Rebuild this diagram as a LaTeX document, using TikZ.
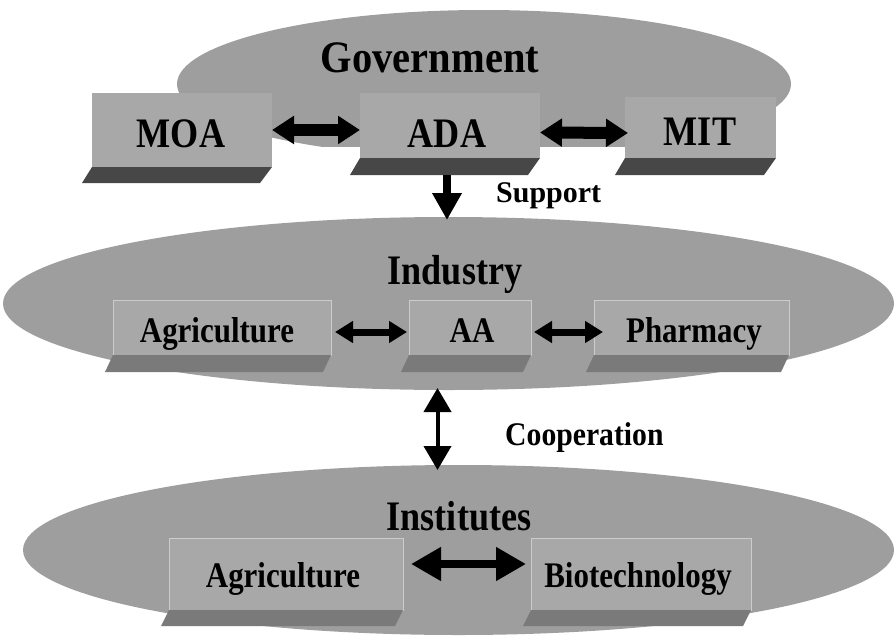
\documentclass[tikz,border=0pt]{standalone}
\usepackage{fontspec}
\setmainfont{Liberation Serif}
\newfontfamily\headfont[FakeStretch=0.9]{Liberation Serif}
\newfontfamily\condfont[FakeStretch=0.86]{Liberation Serif}
\usetikzlibrary{shapes.geometric,arrows.meta}

\tikzset{
  oval/.style={ellipse, fill=black!38, inner sep=0pt, outer sep=0pt},
  govbox/.style={rectangle, fill=black!34, inner sep=0pt, outer sep=0pt, anchor=north west},
  rowbox/.style={rectangle, fill=black!34, draw=black!20, line width=1pt, inner sep=0pt, outer sep=0pt, anchor=north west},
  slab/.style={fill=black!72},
  faintslab/.style={fill=black!52},
  txt/.style={inner sep=0pt, anchor=base, text=black},
  govtitle/.style={txt, font=\headfont\bfseries\fontsize{45}{45}\selectfont},
  tiertitle/.style={txt, font=\condfont\bfseries\fontsize{42}{42}\selectfont},
  boxlabel/.style={txt, font=\condfont\bfseries\fontsize{42}{42}\selectfont},
  rowlabel/.style={txt, font=\condfont\bfseries\fontsize{36}{36}\selectfont},
  linklabel/.style={txt, anchor=base west, font=\bfseries\fontsize{30}{30}\selectfont},
  coopfont/.style={txt, anchor=base west, font=\headfont\bfseries\fontsize{33}{33}\selectfont},
  fatlink/.style={line width=12pt, {Triangle[length=22pt,width=27pt]}-{Triangle[length=22pt,width=27pt]}},
  rowlink/.style={line width=7pt, {Triangle[length=18pt,width=21pt]}-{Triangle[length=18pt,width=21pt]}},
  widelink/.style={line width=8pt, {Triangle[length=30pt,width=32pt]}-{Triangle[length=30pt,width=32pt]}},
  downlink/.style={line width=8pt, -{Triangle[length=27pt,width=28pt]}},
  vlink/.style={line width=4pt, {Triangle[length=24pt,width=27pt]}-{Triangle[length=24pt,width=27pt]}},
}

\begin{document}
\begin{tikzpicture}[x=1pt,y=-1pt]
\useasboundingbox (0,0) rectangle (896,640);

% --- Government tier: a dome whose lower edge is hidden by the boxes
\begin{scope}
  \clip (0,0) rectangle (896,146);
  \node[oval, minimum width=614pt, minimum height=148pt] (gov) at (484,84) {};
\end{scope}

\node[govbox, minimum width=180pt, minimum height=74pt] (moa) at (92,93) {};
\node[govbox, minimum width=180pt, minimum height=65pt] (ada) at (360,93) {};
\node[govbox, minimum width=151pt, minimum height=61pt] (mit) at (625,97) {};

\foreach \b/\d in {moa/16,ada/17,mit/17}
  \fill[slab] (\b.south west) -- (\b.south east)
    -- ([shift={(-12,\d)}]\b.south east) -- ([shift={(-10,\d)}]\b.south west) -- cycle;

\node[govtitle] (govtxt) at (430,72) {Government};
\node[boxlabel] (moatxt) at (181,147) {MOA};
\node[boxlabel] (adatxt) at (447,147) {ADA};
\node[boxlabel] (mittxt) at (700,145) {MIT};

\draw[fatlink] (moa.east) -- (moa.east -| ada.west);
\draw[fatlink] ([shift={(0,7)}]ada.east) -- ([shift={(3,5.5)}]mit.west);

% --- Industry tier
\node[oval, minimum width=891pt, minimum height=173pt] (industry) at (448.5,303.5) {};

\node[rowbox, minimum width=218pt, minimum height=55pt] (indag) at (113,300) {};
\node[rowbox, minimum width=122pt, minimum height=55pt] (indaa) at (409,300) {};
\node[rowbox, minimum width=195pt, minimum height=55pt] (indph) at (594,300) {};
\foreach \b in {indag,indaa,indph}
  \fill[faintslab] (\b.south west) -- (\b.south east)
    -- ([shift={(-8,17)}]\b.south east) -- ([shift={(-8,17)}]\b.south west) -- cycle;

\node[tiertitle] (indtxt) at (455,284) {Industry};
\node[rowlabel] (agtxt) at (217,342) {Agriculture};
\node[rowlabel] (aatxt) at (472,342) {AA};
\node[rowlabel] (phtxt) at (694,342) {Pharmacy};

\draw[rowlink] ([shift={(4,4.5)}]indag.east) -- ([shift={(-2,4.5)}]indaa.west);
\draw[rowlink] ([shift={(3,4.5)}]indaa.east) -- ([shift={(9,4.5)}]indph.west);

% --- Government supports industry
\coordinate (adabase) at ([shift={(-3,17)}]ada.south);
\draw[downlink, shorten >=-3pt] (adabase) -- (adabase |- industry.north);
\node[linklabel] (support) at (496,202) {Support};

% --- Institutes tier
\node[oval, minimum width=871pt, minimum height=170pt] (inst) at (458.5,550) {};

\node[rowbox, minimum width=234pt, minimum height=72pt] (instag) at (169,538) {};
\node[rowbox, minimum width=220pt, minimum height=72pt] (instbio) at (531,538) {};
\foreach \b in {instag,instbio}
  \fill[faintslab] (\b.south west) -- (\b.south east)
    -- ([shift={(-8,16)}]\b.south east) -- ([shift={(-8,16)}]\b.south west) -- cycle;

\node[tiertitle] (insttxt) at (459,530) {Institutes};
\node[rowlabel] (instagtxt) at (283,587) {Agriculture};
\node[rowlabel] (biotxt) at (638,587) {Biotechnology};

\draw[widelink] ([shift={(8,-10)}]instag.east) -- ([shift={(-5,-10)}]instbio.west);

% --- Industry and institutes cooperate
\coordinate (coopTop) at ([shift={(-11,-2)}]industry.south);
\coordinate (coopBot) at ([shift={(-21,5)}]inst.north);
\draw[vlink] (coopTop) -- (coopBot);
\node[coopfont] (coop) at (505,445) {Cooperation};

\end{tikzpicture}
\end{document}
